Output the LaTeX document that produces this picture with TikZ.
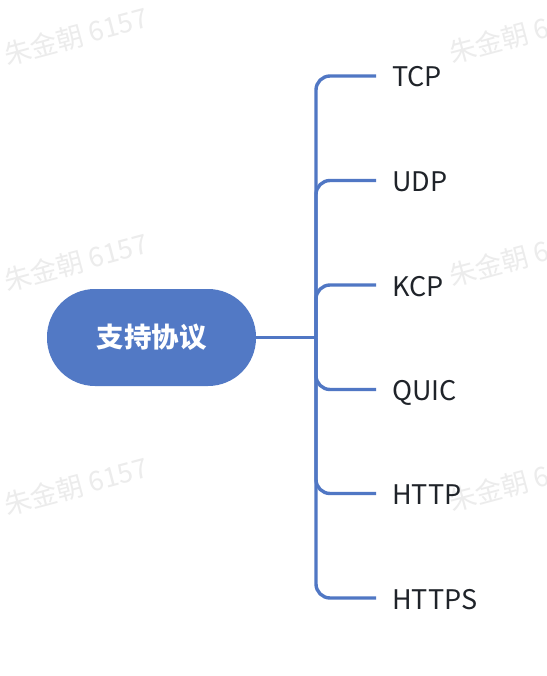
\documentclass[tikz,border=0pt]{standalone}
\usepackage{fontspec}
\setmainfont{Noto Sans CJK SC}
\usetikzlibrary{calc}
\definecolor{mainblue}{HTML}{5279C5}
\definecolor{linkblue}{HTML}{5077C4}
\definecolor{labeltext}{HTML}{1F2329}
\definecolor{wmgray}{HTML}{ECECEC}
\begin{document}
\begin{tikzpicture}[x=1pt,y=-1pt,
  rootbox/.style={fill=mainblue, draw=none, rounded corners=48pt,
    minimum width=209pt, minimum height=97pt, inner sep=0pt,
    text=white, font=\fontsize{27.5}{30}\selectfont\bfseries},
  leaf/.style={anchor=west, inner xsep=16pt, inner ysep=0pt,
    text height=22pt, text depth=0pt, text=labeltext,
    font=\fontsize{27}{30}\selectfont},
  conn/.style={draw=linkblue, line width=3.4pt, rounded corners=14pt},
  watermark/.style={text=wmgray, rotate=15, inner sep=0pt,
    font=\fontsize{27}{30}\selectfont}]
\useasboundingbox (0,0) rectangle (546,676);
\fill[white] (0,0) rectangle (546,676);
% watermarks
\node[watermark] (w1) at (76,36) {朱金朝 6157};
\node[watermark] (w2) at (521,34) {朱金朝 6157};
\node[watermark] (w3) at (76,262) {朱金朝 6157};
\node[watermark] (w4) at (521,257) {朱金朝 6157};
\node[watermark] (w5) at (76,486) {朱金朝 6157};
\node[watermark] (w6) at (521,482) {朱金朝 6157};
% root
\node[rootbox] (root) at (151.5,337.5) {支持协议};
\coordinate (hub) at (316,337.5);
% leaves
\node[leaf] (tcp) at (376,76) {TCP};
\node[leaf] (udp) at (376,180.5) {UDP};
\node[leaf] (kcp) at (376,285) {KCP};
\node[leaf] (quic) at (376,389.5) {QUIC};
\node[leaf] (http) at (376,493.5) {HTTP};
\node[leaf] (https) at (376,598) {HTTPS};
% connectors
\draw[conn] (root.east) -- (hub);
\foreach \n in {tcp,udp,kcp,quic,http,https}
  \draw[conn] (hub) |- (\n.west);
\end{tikzpicture}
\end{document}
